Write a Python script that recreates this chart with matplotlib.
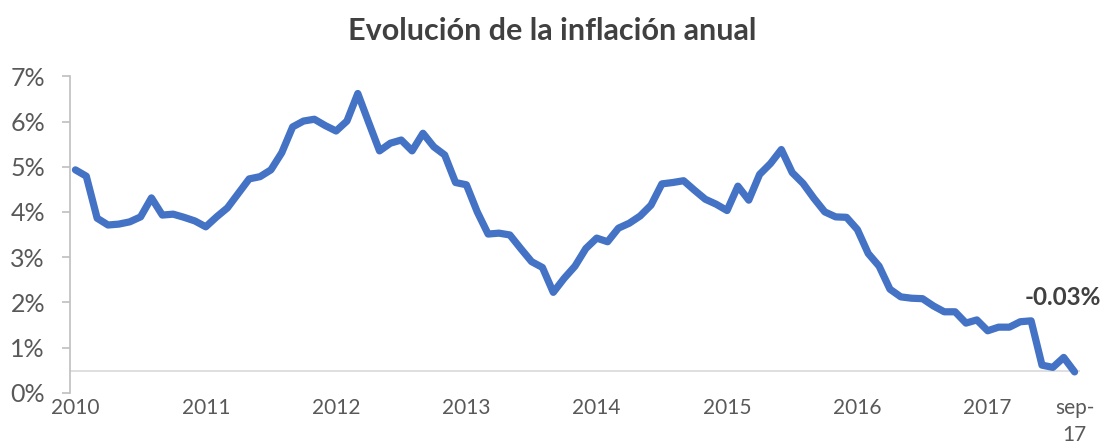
import matplotlib
matplotlib.use("Agg")
import matplotlib.pyplot as plt
import numpy as np

plt.rcParams['font.family'] = ['Lato', 'DejaVu Sans']

title = "Evolución de la inflación anual"
# Monthly annual inflation, Jan 2010 .. Sep 2017 (%)
inflation = [
    4.93, 4.79, 3.86, 3.71, 3.73, 3.78, 3.89, 4.31, 3.93, 3.95, 3.88, 3.80,   # 2010
    3.67, 3.89, 4.09, 4.41, 4.73, 4.78, 4.93, 5.31, 5.88, 6.01, 6.05, 5.91,   # 2011
    5.79, 6.01, 6.62, 5.98, 5.35, 5.52, 5.59, 5.35, 5.74, 5.44, 5.26, 4.65,   # 2012
    4.60, 4.00, 3.51, 3.53, 3.49, 3.19, 2.90, 2.77, 2.22, 2.53, 2.80, 3.19,   # 2013
    3.42, 3.34, 3.64, 3.75, 3.91, 4.15, 4.62, 4.65, 4.69, 4.48, 4.28, 4.17,   # 2014
    4.03, 4.57, 4.26, 4.83, 5.07, 5.38, 4.87, 4.63, 4.30, 4.00, 3.89, 3.88,   # 2015
    3.61, 3.08, 2.80, 2.29, 2.12, 2.09, 2.08, 1.92, 1.79, 1.79, 1.54, 1.61,   # 2016
    1.37, 1.45, 1.45, 1.57, 1.59, 0.61, 0.56, 0.78, 0.46,                     # 2017
]
tick_positions = [0, 12, 24, 36, 48, 60, 72, 84, 92]
tick_labels = ["2010", "2011", "2012", "2013", "2014", "2015", "2016", "2017", "sep-\n17"]
yticks = [0, 1, 2, 3, 4, 5, 6, 7]
axis_cross = 0.49
last_label = "-0.03%"

fig = plt.figure(figsize=(11.04, 4.48), dpi=100)
ax = fig.add_axes([70/1104, (448-392.7)/448, 1010/1104, (392.7-76.3)/448])

x = np.arange(len(inflation))
ax.plot(x, inflation, color="#4472C4", linewidth=5.2, solid_joinstyle="round",
        solid_capstyle="round", zorder=3)

ax.axhline(axis_cross, color="#D9D9D9", linewidth=1.2, zorder=1)

ax.set_xlim(-0.5, len(inflation) - 0.5)
ax.set_ylim(0, 7)

for s in ["top", "right", "bottom"]:
    ax.spines[s].set_visible(False)
ax.spines["left"].set_color("#BFBFBF")
ax.spines["left"].set_linewidth(1.2)

ax.set_yticks(yticks)
ax.set_yticklabels([f"{v}%" for v in yticks])
ax.tick_params(axis="y", length=6, width=1.2, color="#BFBFBF", pad=12,
               labelsize=18, labelcolor="#595959")
ax.set_xticks(tick_positions)
ax.set_xticklabels(tick_labels, linespacing=1.45)
ax.tick_params(axis="x", length=0, pad=4, labelsize=15, labelcolor="#595959")

ax.text(90.9, 2.1, last_label, ha="center", va="center", fontsize=17.5,
        fontweight="bold", color="#404040")

fig.suptitle(title, x=0.5, y=0.962, fontsize=22, fontweight="bold", color="#404040")

fig.savefig("out.png", dpi=100)
